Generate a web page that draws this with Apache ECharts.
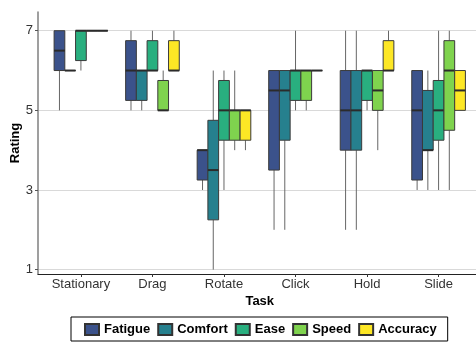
<!DOCTYPE html>
<html>
<head>
<meta charset="utf-8">
<script src="https://cdn.jsdelivr.net/npm/echarts@6/dist/echarts.min.js"></script>
<style>
html,body{margin:0;padding:0;background:#fff;}
#chart{width:476px;height:345px;}
</style>
</head>
<body>
<div id="chart"></div>
<script>
// Categories (tasks) and tick values
const tasks = ['Stationary', 'Drag', 'Rotate', 'Click', 'Hold', 'Slide'];
const seriesNames = ['Fatigue', 'Comfort', 'Ease', 'Speed', 'Accuracy'];
const yTicks = [1, 3, 5, 7];
const xTicks = [1, 2, 3, 4, 5, 6];

// Box statistics per task: [lower whisker, Q1, median, Q3, upper whisker]
const fatigue = [[5, 6, 6.5, 7, 7], [5, 5.25, 6, 6.75, 7], [3, 3.25, 4, 4, 4], [2, 3.5, 5.5, 6, 6], [2, 4, 5, 6, 7], [3, 3.25, 5, 6, 6]];
const comfort = [[6, 6, 6, 6, 6], [5, 5.25, 6, 6, 6], [1, 2.25, 3.5, 4.75, 6], [2, 4.25, 5.5, 6, 6], [2, 4, 5, 6, 7], [3, 4, 4, 5.5, 6]];
const ease = [[6, 6.25, 7, 7, 7], [6, 6, 6, 6.75, 7], [3, 4.25, 5, 5.75, 6], [5, 5.25, 6, 6, 7], [5, 5.25, 6, 6, 6], [3, 4.25, 5, 5.75, 7]];
const speed = [[7, 7, 7, 7, 7], [5, 5, 5, 5.75, 6], [4, 4.25, 5, 5, 6], [5, 5.25, 6, 6, 6], [4, 5, 5.5, 6, 6], [3, 4.5, 6, 6.75, 7]];
const accuracy = [[7, 7, 7, 7, 7], [6, 6, 6, 6.75, 7], [4, 4.25, 5, 5, 5], [6, 6, 6, 6, 6], [6, 6, 6, 6.75, 7], [5, 5, 5.5, 6, 6]];

const allSeries = [fatigue, comfort, ease, speed, accuracy];
const colors = ['#3B528B', '#26808E', '#29AF7F', '#7FD34E', '#FDE725'];

const BOX_W = 0.15; // in category units (dodge width 0.75 / 5)

function renderItem(params, api) {
  const s = params.seriesIndex;
  const xc = api.value(0) + (s - 2) * BOX_W;
  const x0 = api.coord([xc - BOX_W / 2, 0])[0];
  const x1 = api.coord([xc + BOX_W / 2, 0])[0];
  const xm = api.coord([xc, 0])[0];
  const yMin = api.coord([xc, api.value(1)])[1];
  const yQ1 = api.coord([xc, api.value(2)])[1];
  const yMed = api.coord([xc, api.value(3)])[1];
  const yQ3 = api.coord([xc, api.value(4)])[1];
  const yMax = api.coord([xc, api.value(5)])[1];
  const whisker = { stroke: '#666', lineWidth: 1 };
  return {
    type: 'group',
    children: [
      { type: 'line', shape: { x1: xm, y1: yQ3, x2: xm, y2: yMax }, style: whisker },
      { type: 'line', shape: { x1: xm, y1: yQ1, x2: xm, y2: yMin }, style: whisker },
      { type: 'rect', shape: { x: x0, y: yQ3, width: x1 - x0, height: yQ1 - yQ3 },
        style: { fill: colors[s], stroke: '#3a3a3a', lineWidth: 1 } },
      { type: 'line', shape: { x1: x0, y1: yMed, x2: x1, y2: yMed },
        style: { stroke: '#2b2b2b', lineWidth: 2 } }
    ]
  };
}

const chart = echarts.init(document.getElementById('chart'), null, { renderer: 'canvas' });

const series = allSeries.map((arr, s) => ({
  name: seriesNames[s],
  type: 'custom',
  renderItem: renderItem,
  itemStyle: { color: colors[s], borderColor: '#333', borderWidth: 1 },
  encode: { x: 0, y: [1, 2, 3, 4, 5] },
  data: arr.map((d, i) => [i + 1].concat(d)),
  clip: false
}));

chart.setOption({
  animation: false,
  backgroundColor: '#fff',
  grid: { left: 38, top: 12, width: 443.5, bottom: 71, containLabel: false, outerBoundsMode: 'none' },
  xAxis: {
    type: 'value',
    min: 0.4,
    max: 6.6,
    name: 'Task',
    nameLocation: 'middle',
    nameGap: 21,
    nameMoveOverlap: false,
    nameTextStyle: { fontFamily: 'Liberation Sans', fontWeight: 'bold', fontSize: 13, color: '#000' },
    axisLine: { show: true, onZero: false, lineStyle: { color: '#222', width: 1.2 } },
    axisTick: { show: true, length: 3, customValues: xTicks, lineStyle: { color: '#333' } },
    axisLabel: {
      customValues: xTicks,
      margin: 4,
      fontFamily: 'Liberation Sans', fontSize: 13, color: '#333',
      formatter: v => tasks[Math.round(v) - 1] || ''
    },
    splitLine: { show: false }
  },
  yAxis: {
    type: 'value',
    min: 0.89,
    max: 7.47,
    name: 'Rating',
    nameLocation: 'middle',
    nameGap: 16,
    nameMoveOverlap: false,
    nameTextStyle: { fontFamily: 'Liberation Sans', fontWeight: 'bold', fontSize: 13, color: '#000' },
    axisLine: { show: true, onZero: false, lineStyle: { color: '#7f7f7f', width: 1.5 } },
    axisTick: { show: true, length: 3, customValues: yTicks, lineStyle: { color: '#555' } },
    axisLabel: {
      customValues: yTicks,
      margin: 5,
      fontFamily: 'Liberation Sans', fontSize: 13, color: '#333'
    },
    splitLine: { show: true, lineStyle: { color: '#d9d9d9', width: 1 } }
  },
  legend: {
    left: 71,
    top: 317,
    orient: 'horizontal',
    padding: [6, 11, 5, 13],
    borderColor: '#000',
    borderWidth: 1,
    itemWidth: 14,
    itemHeight: 11,
    itemGap: 7,
    icon: 'rect',
    textStyle: { fontFamily: 'Liberation Sans', fontWeight: 'bold', fontSize: 13, color: '#000' },
    data: seriesNames
  },
  series: series
});
</script>
</body>
</html>
